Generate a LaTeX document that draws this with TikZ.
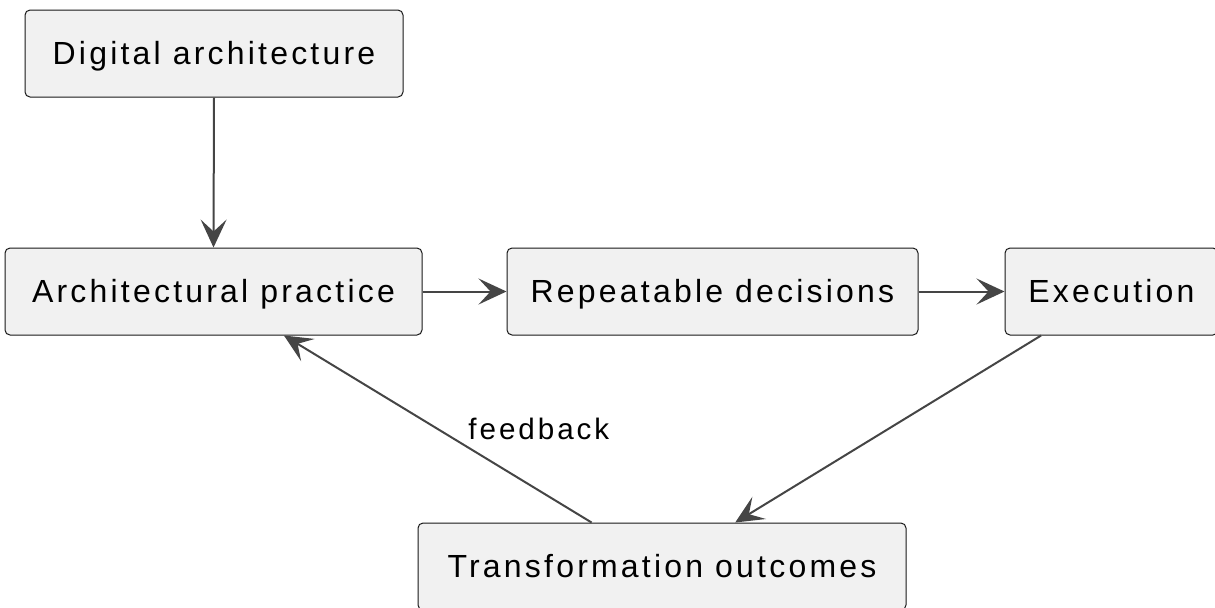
\documentclass[tikz,border=0pt]{standalone}
\usepackage{fontspec}
\setmainfont{Liberation Sans}[LetterSpace=10]
\usetikzlibrary{arrows.meta}
\definecolor{boxfill}{HTML}{F1F1F1}
\definecolor{boxline}{HTML}{181818}
\definecolor{flowline}{HTML}{454545}
\tikzset{
  stagebox/.style={draw=boxline, fill=boxfill, line width=0.5pt, rounded corners=2.5pt,
    minimum height=43.5pt, inner sep=0pt, text height=11.46pt, text depth=0pt,
    font=\fontsize{16}{19}\selectfont},
  flow/.style={draw=flowline, line width=1pt, -{Stealth[length=14pt,width=13pt,inset=6pt]}},
}
\begin{document}
\begin{tikzpicture}[x=0.5pt, y=-0.5pt]
  \useasboundingbox (0,0) rectangle (1215,607);
  \node[stagebox, minimum width=189pt]   (digital)   at (214,53.5)    {Digital architecture};
  \node[stagebox, minimum width=208.5pt] (practice)  at (213.5,291.5) {Architectural practice};
  \node[stagebox, minimum width=205.5pt] (decisions) at (712.5,291.5) {Repeatable decisions};
  \node[stagebox, minimum width=106.5pt] (execution) at (1111.5,291.5) {Execution};
  \node[stagebox, minimum width=244pt]   (outcomes)  at (662,566.5)   {Transformation outcomes};
  \draw[flow] (digital.south) -- (practice.north);
  \draw[flow] (practice) -- (decisions);
  \draw[flow] (decisions) -- (execution);
  \draw[flow] (execution.212) -- (outcomes.31);
  \draw[flow] (outcomes.148) -- (practice.328)
    node[midway, anchor=west, xshift=11.5pt, font=\fontsize{14.8}{17}\selectfont] {feedback};
\end{tikzpicture}
\end{document}
